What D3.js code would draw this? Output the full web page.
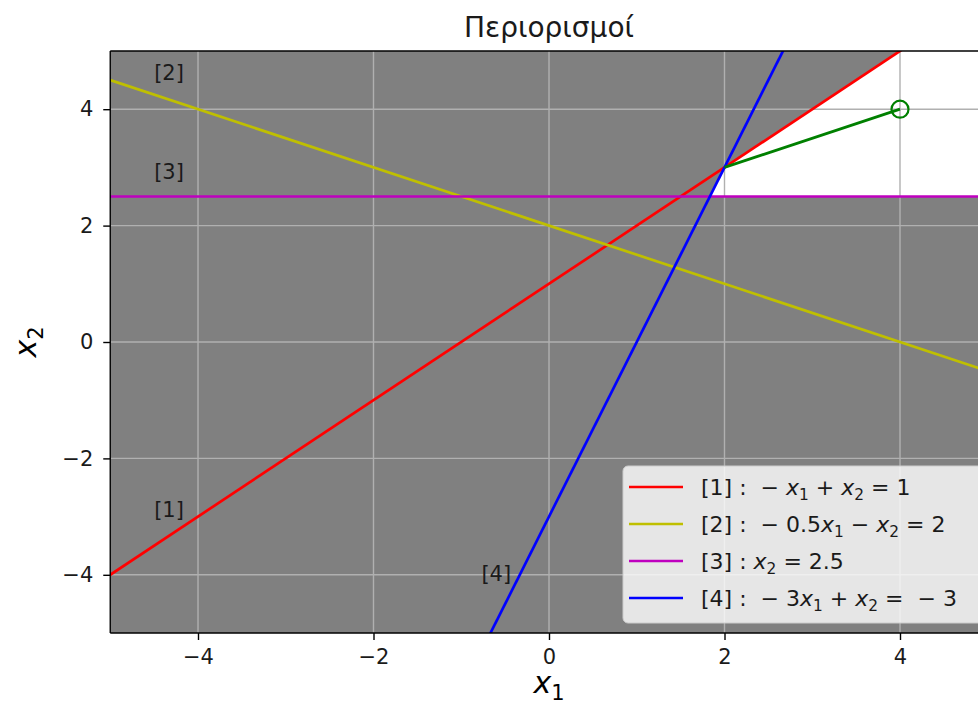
<!DOCTYPE html>
<html>
<head>
<meta charset="utf-8">
<script src="https://cdn.jsdelivr.net/npm/d3@7"></script>
<style>
  body { margin: 0; background: #fff; }
  svg { display: block; font-family: "DejaVu Sans", sans-serif; }
</style>
</head>
<body>
<svg id="chart" width="978" height="704"></svg>
<script>
// constraint lines, drawn as a*x1 + b*x2 = c
const lineIds = ['[1]', '[2]', '[3]', '[4]'];
const lineA = [-1, 0.5, 0, -3];
const lineB = [1, 1, 1, 1];
const lineC = [1, 2, 2.5, -3];
const lineColors = ['#ff0000', '#bfbf00', '#bf00bf', '#0000ff'];
const legendLabels = [
  '[1] :  − x_1 + x_2 = 1',
  '[2] :  − 0.5x_1 − x_2 = 2',
  '[3] : x_2 = 2.5',
  '[4] :  − 3x_1 + x_2 =  − 3'
];
// where the [n] tags sit (data coords, left/baseline of text)
const tagX = [-4.5, -4.5, -4.5, -0.77];
const tagY = [-3.0, 4.5, 2.8, -4.1];

// feasible (white) region vertices
const feasX = [1.8333, 2, 4, 5, 5];
const feasY = [2.5, 3, 5, 5, 2.5];

// green path to the optimum
const pathX = [2, 4];
const pathY = [3, 4];

const xTicks = [-4, -2, 0, 2, 4];
const yTicks = [-4, -2, 0, 2, 4];
const xDomain = [-5, 5];
const yDomain = [-5, 5];

const svg = d3.select('#chart');
const width = 978, height = 704;

const x = d3.scaleLinear().domain(xDomain).range([110.25, 987.75]);
const y = d3.scaleLinear().domain(yDomain).range([633, 51]);

const x0 = x(xDomain[0]), x1 = x(xDomain[1]);
const y0 = y(yDomain[1]), y1 = y(yDomain[0]);

svg.append('defs').append('clipPath').attr('id', 'clip')
  .append('rect').attr('x', x0).attr('y', y0).attr('width', x1 - x0).attr('height', y1 - y0);

const plot = svg.append('g').attr('clip-path', 'url(#clip)');

// infeasible background
plot.append('rect')
  .attr('x', x0).attr('y', y0).attr('width', x1 - x0).attr('height', y1 - y0)
  .attr('fill', '#808080');

// feasible region
plot.append('path')
  .datum(d3.zip(feasX, feasY))
  .attr('d', d3.line().x(d => x(d[0])).y(d => y(d[1])).curve(d3.curveLinearClosed))
  .attr('fill', '#ffffff');

// grid
plot.selectAll('line.gx').data(xTicks).enter().append('line')
  .attr('x1', d => x(d)).attr('x2', d => x(d)).attr('y1', y0).attr('y2', y1)
  .attr('stroke', '#b0b0b0').attr('stroke-width', 1.4);
plot.selectAll('line.gy').data(yTicks).enter().append('line')
  .attr('y1', d => y(d)).attr('y2', d => y(d)).attr('x1', x0).attr('x2', x1)
  .attr('stroke', '#b0b0b0').attr('stroke-width', 1.4);

// constraint lines
lineIds.forEach((id, i) => {
  const pts = xDomain.map(v => [v, (lineC[i] - lineA[i] * v) / lineB[i]]);
  plot.append('path')
    .datum(pts)
    .attr('d', d3.line().x(d => x(d[0])).y(d => y(d[1])))
    .attr('fill', 'none')
    .attr('stroke', lineColors[i])
    .attr('stroke-width', 2.7);
});

// green path and optimum marker
plot.append('path')
  .datum(d3.zip(pathX, pathY))
  .attr('d', d3.line().x(d => x(d[0])).y(d => y(d[1])))
  .attr('fill', 'none').attr('stroke', '#008000').attr('stroke-width', 2.8);
plot.append('circle')
  .attr('cx', x(pathX[1])).attr('cy', y(pathY[1])).attr('r', 8.5)
  .attr('fill', 'none').attr('stroke', '#008000').attr('stroke-width', 2.2);

// tags
lineIds.forEach((id, i) => {
  svg.append('text')
    .attr('x', x(tagX[i])).attr('y', y(tagY[i]))
    .attr('font-size', 21).attr('fill', '#1a1a1a')
    .text(id);
});

// spines
svg.append('line').attr('x1', x0).attr('x2', width).attr('y1', y0).attr('y2', y0).attr('stroke', '#000').attr('stroke-width', 1.4);
svg.append('line').attr('x1', x0).attr('x2', width).attr('y1', y1).attr('y2', y1).attr('stroke', '#000').attr('stroke-width', 1.4);
svg.append('line').attr('x1', x0).attr('x2', x0).attr('y1', y0).attr('y2', y1).attr('stroke', '#000').attr('stroke-width', 1.4);

// axes
const fmt = d => d < 0 ? '\u2212' + Math.abs(d) : String(d);
svg.append('g')
  .attr('transform', `translate(0,${y1})`)
  .call(d3.axisBottom(x).tickValues(xTicks).tickFormat(fmt).tickSize(7).tickPadding(9))
  .attr('font-size', 21).attr('font-family', '"DejaVu Sans", sans-serif')
  .call(g => g.select('.domain').remove())
  .call(g => g.selectAll('.tick line').attr('stroke-width', 1.4))
  .call(g => g.selectAll('.tick text').attr('fill', '#1a1a1a'));
svg.append('g')
  .attr('transform', `translate(${x0},0)`)
  .call(d3.axisLeft(y).tickValues(yTicks).tickFormat(fmt).tickSize(7).tickPadding(10))
  .attr('font-size', 21).attr('font-family', '"DejaVu Sans", sans-serif')
  .call(g => g.select('.domain').remove())
  .call(g => g.selectAll('.tick line').attr('stroke-width', 1.4))
  .call(g => g.selectAll('.tick text').attr('fill', '#1a1a1a'));

// math-ish text: x_1 -> italic x with subscript
function mathText(sel, str, size) {
  sel.attr('font-size', size);
  const parts = str.split(/(x_\d)/);
  parts.forEach(p => {
    if (!p) return;
    const m = p.match(/^x_(\d)$/);
    if (m) {
      sel.append('tspan').attr('font-style', 'italic').attr('font-size', size).text('x');
      sel.append('tspan').attr('font-size', size * 0.7).attr('dy', size * 0.22).text(m[1]);
      sel.append('tspan').attr('font-size', size).attr('dy', -size * 0.22).text('\u200b');
    } else {
      sel.append('tspan').attr('font-size', size).text(p);
    }
  });
}

// axis labels
const xl = svg.append('text').attr('x', 549).attr('y', 693).attr('text-anchor', 'middle').attr('fill', '#000');
mathText(xl, 'x_1', 30);
const yl = svg.append('text').attr('transform', 'translate(36,342) rotate(-90)').attr('text-anchor', 'middle').attr('fill', '#000');
mathText(yl, 'x_2', 30);

// title
svg.append('text').attr('x', 549).attr('y', 37).attr('text-anchor', 'middle')
  .attr('font-size', 28).attr('fill', '#1a1a1a').text('Περιορισμοί');

// legend
const leg = svg.append('g').attr('transform', 'translate(623,466)');
leg.append('rect').attr('width', 370).attr('height', 157).attr('rx', 5)
  .attr('fill', '#ffffff').attr('fill-opacity', 0.8).attr('stroke', '#cccccc');
legendLabels.forEach((lab, i) => {
  const yy = 21 + i * 37;
  leg.append('line').attr('x1', 6).attr('x2', 60).attr('y1', yy).attr('y2', yy)
    .attr('stroke', lineColors[i]).attr('stroke-width', 2.7);
  const t = leg.append('text').attr('x', 78).attr('y', yy + 8).attr('fill', '#1a1a1a')
    .style('white-space', 'pre');
  mathText(t, lab, 22);
});
</script>
</body>
</html>
